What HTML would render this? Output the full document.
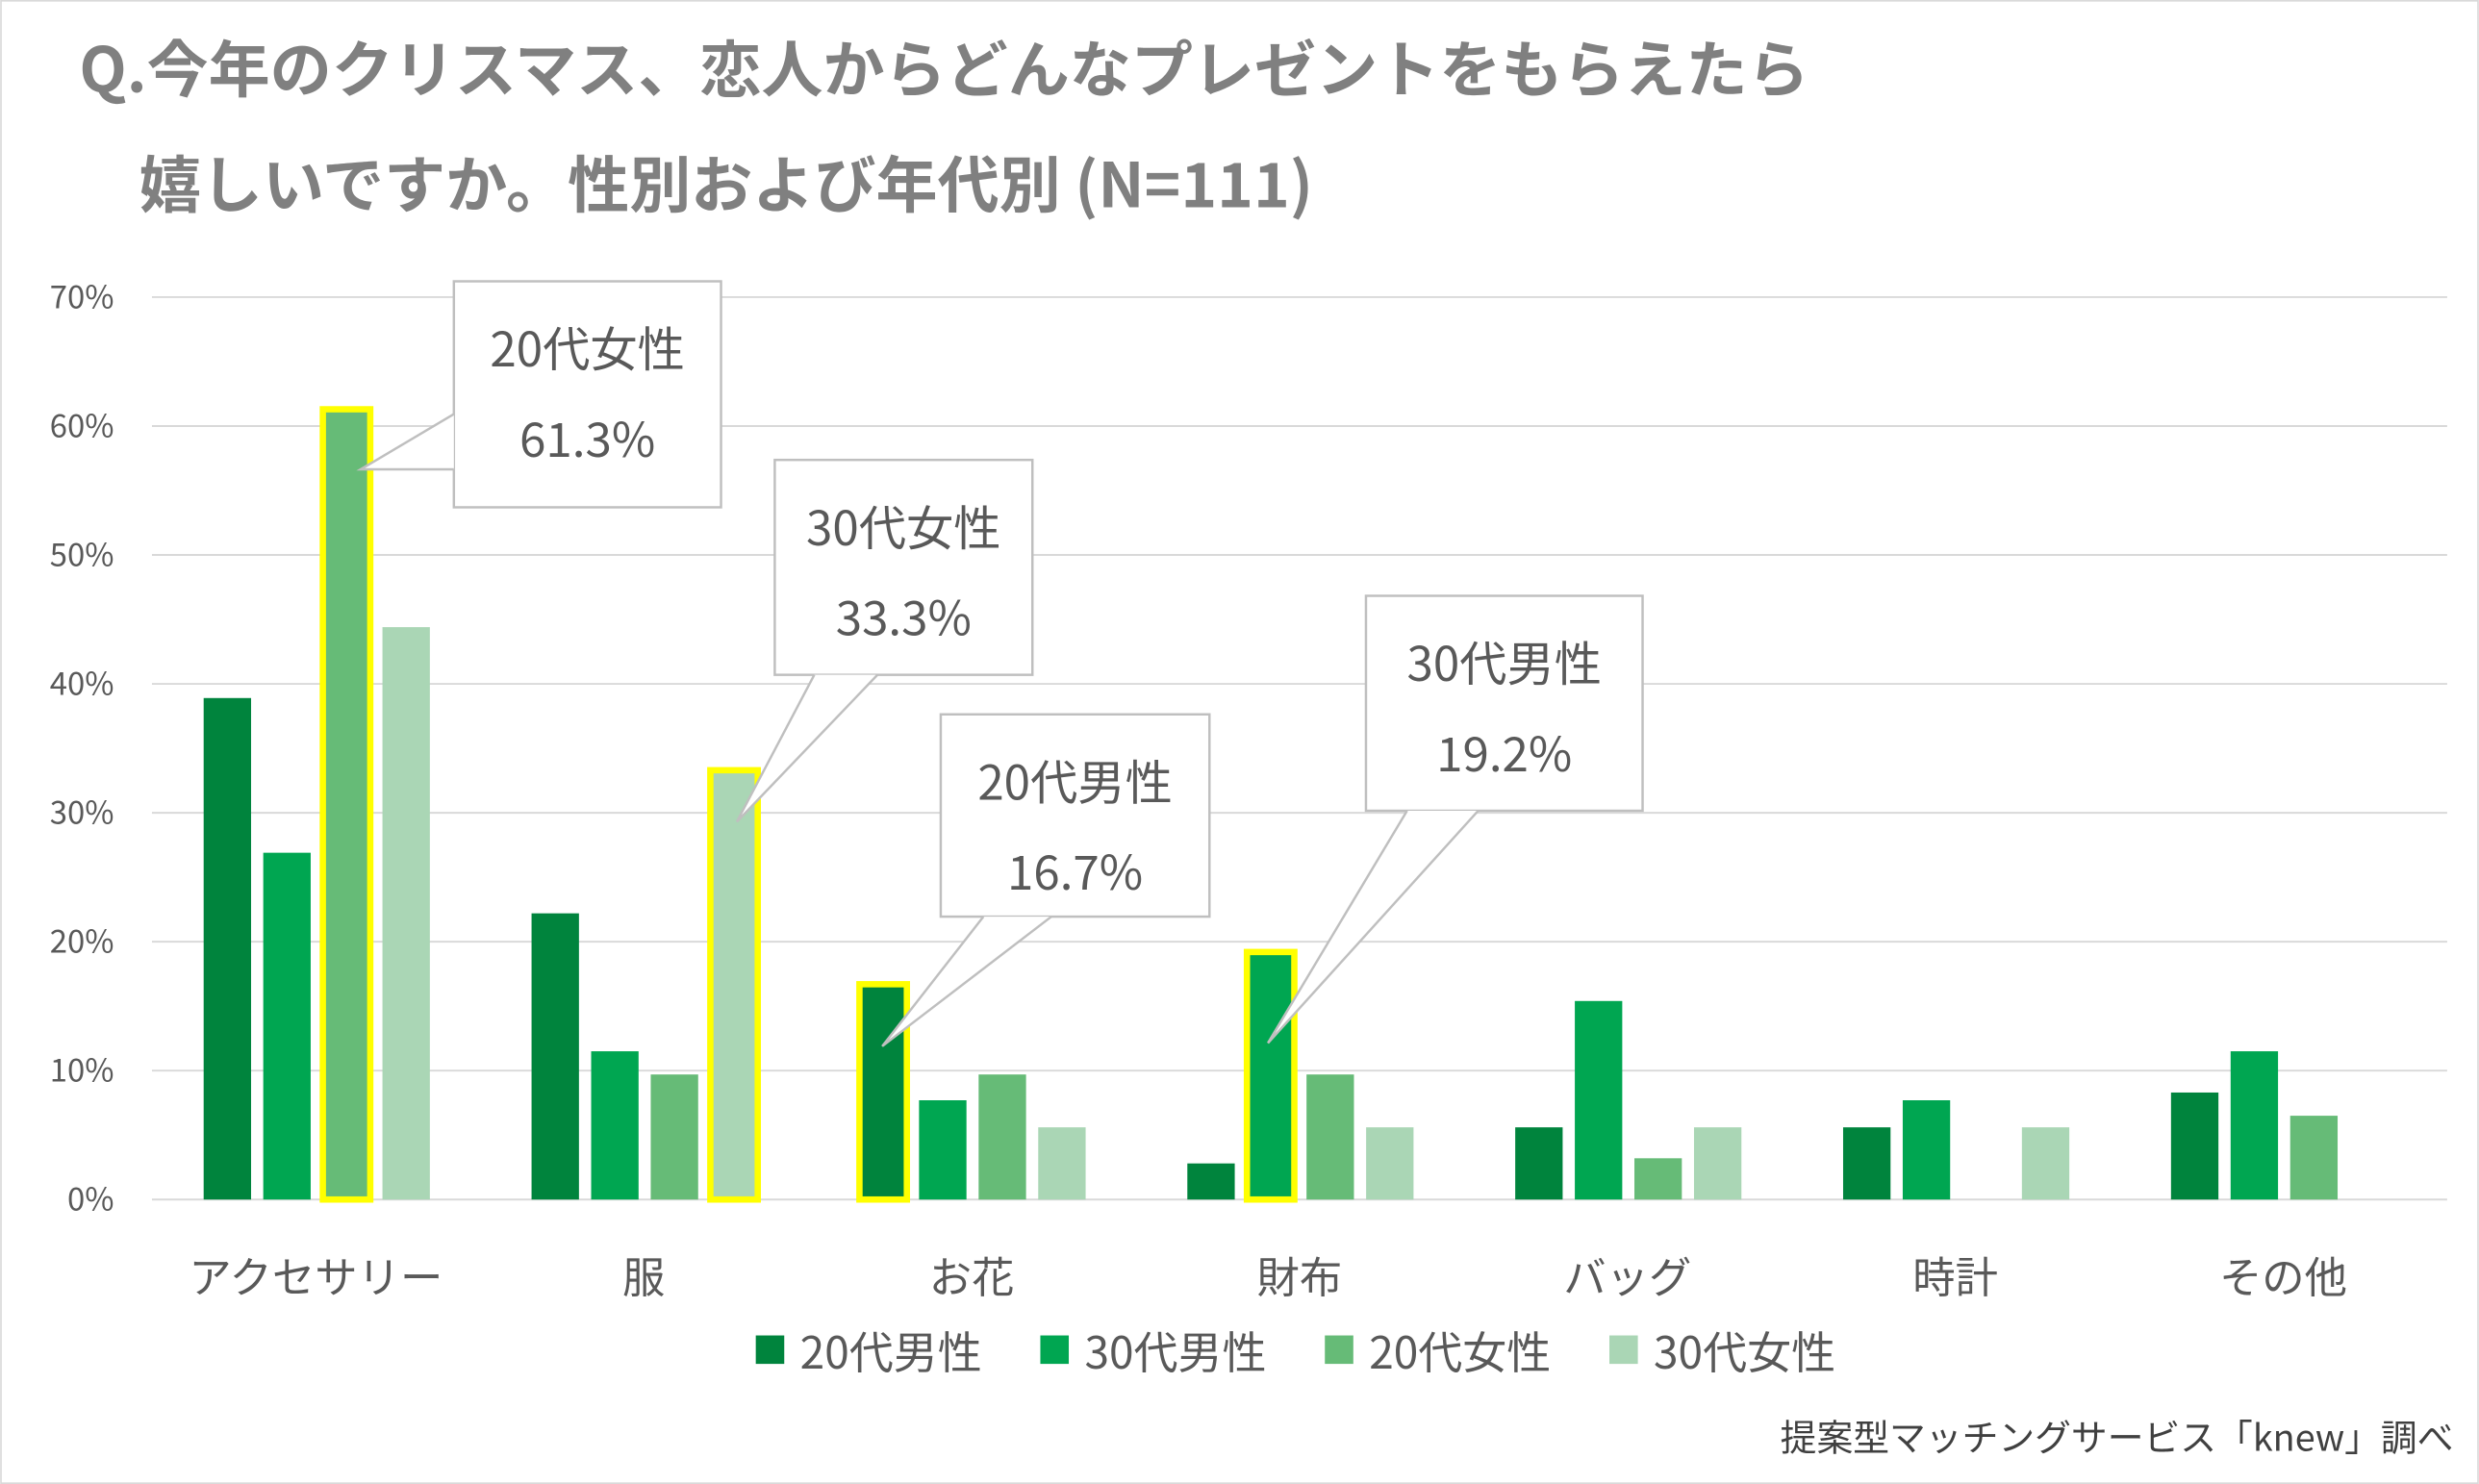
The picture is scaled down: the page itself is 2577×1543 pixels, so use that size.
<!DOCTYPE html>
<html><head><meta charset="utf-8"><style>
html,body{margin:0;padding:0;background:#fff}
svg{display:block;font-family:"Noto Sans CJK JP","Liberation Sans",sans-serif}
</style></head><body>
<svg width="2577" height="1543" viewBox="0 0 1568 939" xmlns="http://www.w3.org/2000/svg">
<rect x="0.5" y="0.5" width="1567" height="938" fill="#fff" stroke="#d9d9d9"/>
<text x="50" y="58" font-size="39" font-weight="bold" fill="#808080">Q.今年のクリスマス、恋人からどんなプレゼントをもらえたら</text>
<text x="88" y="131" font-size="39" font-weight="bold" fill="#808080">嬉しいですか。性別および年代別 (N=111)</text>
<g id="grid"></g><g id="bars"></g><g id="labels"></g>
<g id="callouts"></g>
<g id="legend"></g>
<text x="1552" y="918" font-size="23" fill="#404040" text-anchor="end">提案型マッチングサービス「knew」調べ</text>
</svg>
<script>
const categories=["アクセサリー","服","お花","財布","バッグ","時計","その他"];
const seriesNames=["20代男性","30代男性","20代女性","30代女性"];
const male20=[38.9,22.2,16.7,2.8,5.6,5.6,8.3];
const male30=[26.9,11.5,7.7,19.2,15.4,7.7,11.5];
const female20=[61.3,9.7,9.7,9.7,3.2,0,6.5];
const female30=[44.4,33.3,5.6,5.6,5.6,5.6,0];
const yTicks=[0,10,20,30,40,50,60,70];
const highlights=[[0,2],[1,3],[2,0],[3,1]];
const colors=["#00843D","#00A651","#66BB77","#AAD6B5"];
const NS="http://www.w3.org/2000/svg";
const x0=96,x1=1548,yBase=759,yTop=188;
const y=v=>yBase-(v/70)*(yBase-yTop);
const gw=(x1-x0)/categories.length;
const cx=i=>x0+gw*(i+0.5);
const bx=(i,s)=>cx(i)-71+s*37.7;
const bw=30;
function mk(tag,attrs,parent){const e=document.createElementNS(NS,tag);for(const k in attrs)e.setAttribute(k,attrs[k]);parent.appendChild(e);return e;}
const grid=document.getElementById('grid');
yTicks.forEach(t=>{
 const l=mk('line',{x1:x0,x2:x1,y1:y(t),y2:y(t),stroke:'#d9d9d9','stroke-width':1.2},grid);
 
 
 const tx=mk('text',{x:72,y:y(t)+7,'font-size':20,fill:'#595959','text-anchor':'end'},grid);
 tx.textContent=t+'%';
 
 
});
const bars=document.getElementById('bars');
const all=[male20,male30,female20,female30];
all.forEach((arr,s)=>arr.forEach((v,i)=>{
 const hl=highlights.some(h=>h[0]===i&&h[1]===s);
 const r=mk('rect',{x:bx(i,s),y:y(v),width:bw,height:yBase-y(v),fill:colors[s]},bars);
 if(hl){r.setAttribute('stroke','#FFFF00');r.setAttribute('stroke-width','4');}
 
 
}));
const labels=document.getElementById('labels');
categories.forEach((c,i)=>{
 const t=mk('text',{x:cx(i),y:818,'font-size':27,fill:'#595959','text-anchor':'middle'},labels);
 t.textContent=c;
 
 
});
const leg=document.getElementById('legend');
const lx=[478,658,838,1018];
seriesNames.forEach((n,s)=>{
 const r=mk('rect',{x:lx[s],y:845,width:18,height:18,fill:colors[s]},leg);
 
 
 const t=mk('text',{x:lx[s]+28,y:866,'font-size':28,fill:'#595959'},leg);
 t.textContent=n;
 
 
});
const co=document.getElementById('callouts');
const boxes=[
 {b:[287,178,456,321],p:"287,262 228,297 287,297",n:"20代女性",v:"61.3%"},
 {b:[490,291,653,427],p:"515,427 466,520 555,427",n:"30代女性",v:"33.3%"},
 {b:[595,452,765,580],p:"622,580 558,662 665,580",n:"20代男性",v:"16.7%"},
 {b:[864,377,1039,513],p:"890,513 802,660 935,513",n:"30代男性",v:"19.2%"}
];
boxes.forEach(o=>{
 const [a,b,c,d]=o.b;
 const r=mk('rect',{x:a,y:b,width:c-a,height:d-b,fill:'#fff',stroke:'#bfbfbf','stroke-width':1.5},co);
 
 
 const p=mk('polyline',{points:o.p,fill:'#fff',stroke:'#bfbfbf','stroke-width':1.5},co);
 
 
 const t1=mk('text',{x:(a+c)/2,y:b+54,'font-size':30,fill:'#595959','text-anchor':'middle'},co);
 t1.textContent=o.n;
 
 
 const t2=mk('text',{x:(a+c)/2,y:b+111,'font-size':30,fill:'#595959','text-anchor':'middle'},co);
 t2.textContent=o.v;
 
 
});
</script>
</body></html>
